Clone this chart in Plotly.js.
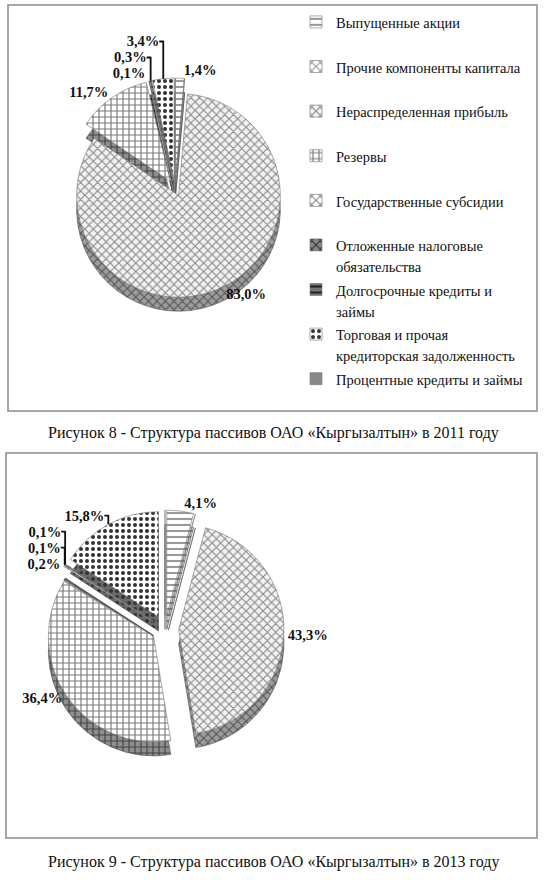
<!DOCTYPE html>
<html><head><meta charset="utf-8">
<script src="https://cdn.plot.ly/plotly-3.0.1.min.js"></script>
<style>html,body{margin:0;padding:0;background:#fff}#chart{width:546px;height:880px}</style>
</head><body><div id="chart"></div>
<script>
// ---- data ----
var categories = [
  "Выпущенные акции",
  "Прочие компоненты капитала",
  "Нераспределенная прибыль",
  "Резервы",
  "Государственные субсидии",
  "Отложенные налоговые<br>обязательства",
  "Долгосрочные кредиты и<br>займы",
  "Торговая и прочая<br>кредиторская задолженность",
  "Процентные кредиты и займы"
];
var values2011 = [1.4, 0, 83.0, 11.7, 0, 0.1, 0.3, 3.4, 0];
var values2013 = [4.1, 0, 43.3, 36.4, 0.2, 0.1, 0.1, 15.8, 0];
var caption2011 = "Рисунок 8 - Структура пассивов ОАО «Кыргызалтын» в 2011 году";
var caption2013 = "Рисунок 9 - Структура пассивов ОАО «Кыргызалтын» в 2013 году";

// ---- styles ----
var serif = "Liberation Serif, Times New Roman, DejaVu Serif, serif";
var patShape = ["-", "x", "x", "+", "x", "x", "-", ".", ""];
var patFg    = ["#9a9a9a", "#9a9a9a", "#8a8a8a", "#7a7a7a", "#8a8a8a", "#333", "#222", "#333", "#888"];
var patBg    = ["#ffffff", "#ffffff", "#f2f2f2", "#ffffff", "#ffffff", "#888", "#777", "#ffffff", "#888"];
var sideFg   = ["#777", "#777", "#555", "#444", "#666", "#222", "#111", "#333", "#555"];
var sideBg   = ["#cfcfcf", "#cfcfcf", "#9c9c9c", "#8e8e8e", "#bbb", "#555", "#555", "#6a6a6a", "#666"];

function legendLabel(c) {
  var t = c.indexOf("<br>") >= 0 ? c : c + "<br>\u00a0";
  return t.split("<br>").map(function (s) { return '<span style="font-size:14.5px">' + s + '</span>'; }).join("<br>");
}
var labels = categories.map(legendLabel);

function px(x) { return x / 546; }
function py(y) { return 1 - y / 880; }

function pieTrace(vals, dom, pull, legendId, side) {
  return {
    type: "pie",
    labels: labels,
    values: vals,
    sort: false,
    direction: "clockwise",
    rotation: 0,
    pull: vals.map(function () { return pull; }),
    domain: dom,
    marker: {
      colors: side ? sideBg : patBg,
      line: { color: side ? "#555" : "#777", width: 0.6 },
      pattern: {
        shape: patShape,
        fgcolor: side ? sideFg : patFg,
        bgcolor: side ? sideBg : patBg,
        size: 6,
        solidity: 0.35
      }
    },
    texttemplate: vals.map(function (v) { return v > 0 ? "%{value:.1f}%" : ""; }),
    textposition: side ? "none" : vals.map(function (v) { return v > 0 ? "outside" : "none"; }),
    outsidetextfont: { family: serif, size: 14.5, color: "#111", weight: "bold" },
    showlegend: !side,
    legend: legendId,
    hoverinfo: "skip"
  };
}

var depth = 14;
function dom(x0, x1, y0, y1, dy) {
  return { x: [px(x0), px(x1)], y: [py(y1 + dy), py(y0 + dy)] };
}

var data = [
  pieTrace(values2011, dom(50, 300, 78, 298, depth), 0.08, "legend", true),
  pieTrace(values2011, dom(50, 300, 78, 298, 0), 0.08, "legend", false),
  pieTrace(values2013, dom(45, 285, 510, 748, depth), 0.13, "legend2", true),
  pieTrace(values2013, dom(45, 285, 510, 748, 0), 0.13, "legend2", false)
];

var legendCommon = {
  font: { family: serif, size: 16, color: "#111" },
  bgcolor: "rgba(0,0,0,0)",
  valign: "top",
  xanchor: "left",
  yanchor: "top",
  itemclick: false,
  itemdoubleclick: false
};

var layout = {
  width: 546,
  height: 880,
  margin: { l: 0, r: 0, t: 0, b: 0 },
  paper_bgcolor: "#fff",
  separators: ", ",
  font: { family: serif, color: "#111" },
  legend: Object.assign({}, legendCommon, { x: px(296), y: py(5) }),
  legend2: Object.assign({}, legendCommon, { x: px(296), y: py(466), font: { family: serif, size: 15, color: "#111" } }),
  shapes: [
    { type: "rect", xref: "paper", yref: "paper", x0: px(8), x1: px(537), y0: py(411), y1: py(5), line: { color: "#8a8a8a", width: 1.5 } },
    { type: "rect", xref: "paper", yref: "paper", x0: px(6), x1: px(537), y0: py(838), y1: py(453), line: { color: "#8a8a8a", width: 1.5 } }
  ],
  annotations: [
    { text: caption2011, xref: "paper", yref: "paper", x: 0.5, y: py(433), xanchor: "center", yanchor: "middle", showarrow: false, font: { family: serif, size: 16, color: "#111" } },
    { text: caption2013, xref: "paper", yref: "paper", x: 0.5, y: py(862), xanchor: "center", yanchor: "middle", showarrow: false, font: { family: serif, size: 16, color: "#111" } }
  ]
};

Plotly.newPlot("chart", data, layout, { displayModeBar: false, staticPlot: true });
</script>
</body></html>
